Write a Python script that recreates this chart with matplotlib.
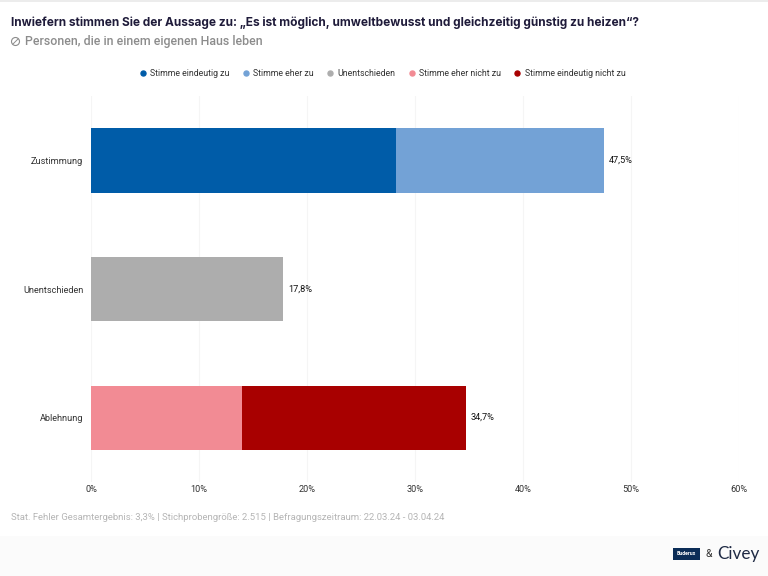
import matplotlib
matplotlib.use('Agg')
import matplotlib.pyplot as plt
from matplotlib.lines import Line2D
from matplotlib.patches import Rectangle, Ellipse

plt.rcParams['font.family'] = ['Roboto', 'DejaVu Sans']

# Data
categories = ['Zustimmung', 'Unentschieden', 'Ablehnung']
series_names = ['Stimme eindeutig zu', 'Stimme eher zu', 'Unentschieden',
                'Stimme eher nicht zu', 'Stimme eindeutig nicht zu']
eindeutig_zu = [28.2, 0, 0]
eher_zu = [19.3, 0, 0]
unentschieden = [0, 17.8, 0]
eher_nicht_zu = [0, 0, 14.0]
eindeutig_nicht_zu = [0, 0, 20.7]
total_labels = ['47,5%', '17,8%', '34,7%']
x_ticks = [0, 10, 20, 30, 40, 50, 60]

colors = ['#005ca8', '#73a2d6', '#adadad', '#f28b94', '#a80000']
W, H = 768, 576


def px(x, y):
    return x / W, 1 - y / H


fig = plt.figure(figsize=(7.68, 5.76), dpi=100)
ax = fig.add_axes([91 / W, 1 - 482 / H, 648 / W, 386 / H])

series = [eindeutig_zu, eher_zu, unentschieden, eher_nicht_zu, eindeutig_nicht_zu]
left = [0, 0, 0]
for vals, col in zip(series, colors):
    ax.barh(categories, vals, left=left, height=0.5, color=col, zorder=3)
    left = [a + b for a, b in zip(left, vals)]

for i, lab in enumerate(total_labels):
    ax.annotate(lab, (left[i], i), xytext=(3.6, 0), textcoords='offset points',
                va='center', fontsize=6.6, color='#111111', zorder=4)

ax.set_xlim(0, 60)
ax.set_ylim(2.5, -0.5)
ax.set_xticks(x_ticks)
ax.set_xticklabels([f'{t}%' for t in x_ticks])
ax.tick_params(axis='x', length=0, pad=2, labelsize=6.6, labelcolor='#333333')
ax.tick_params(axis='y', length=0, pad=5.5, labelsize=6.6, labelcolor='#333333')
ax.grid(axis='x', color='#f5f5f5', linewidth=0.8, zorder=0)
ax.set_axisbelow(True)
for s in ax.spines.values():
    s.set_visible(False)

# Legend
handles = [Line2D([], [], marker='o', linestyle='none', color=c, markersize=3.6) for c in colors]
fig.legend(handles, series_names, loc='center', bbox_to_anchor=(381.5 / W, 1 - 73.5 / H), ncol=5,
           frameon=False, fontsize=6.35, handletextpad=0.25, columnspacing=1.34,
           labelcolor='#333333', handlelength=1.1)

# Title
fig.text(*px(11, 23), 'Inwiefern stimmen Sie der Aussage zu: „Es ist möglich, umweltbewusst und gleichzeitig günstig zu heizen“?',
         family=['Inter', 'DejaVu Sans'], fontsize=8.55, fontweight='bold', color='#1f1b3a', va='center')
fig.text(*px(25, 41), 'Personen, die in einem eigenen Haus leben',
         fontsize=8.9, fontweight='medium', color='#8c8c8c', va='center')
fig.add_artist(Ellipse(px(15.5, 41.5), 8 / W, 8 / H, transform=fig.transFigure, fill=False,
                       edgecolor='#8c8c8c', linewidth=0.8))
fig.add_artist(Line2D([13 / W, 18 / W], [1 - 44 / H, 1 - 39 / H], color='#8c8c8c', linewidth=0.7))

# Footer
fig.text(*px(11, 518), 'Stat. Fehler Gesamtergebnis: 3,3% | Stichprobengröße: 2.515 | Befragungszeitraum: 22.03.24 - 03.04.24',
         fontsize=6.83, color='#b5b5b5', va='center')
fig.add_artist(Rectangle((0, 0), 1, 40 / H, transform=fig.transFigure, facecolor='#fbfbfb',
                         edgecolor='none', zorder=-1))
fig.add_artist(Rectangle((0, 1 - 2 / H), 1, 2 / H, transform=fig.transFigure, facecolor='#ececec',
                         edgecolor='none', zorder=-1))
fig.add_artist(Rectangle((673 / W, 1 - 560 / H), 27 / W, 12 / H, transform=fig.transFigure,
                         facecolor='#0b2d57', edgecolor='none'))
fig.text(*px(686.5, 553.5), 'Buderus', fontsize=3.8, fontweight='bold', color='white', ha='center', va='center')
fig.text(*px(709, 554), '&', fontsize=7.5, color='#333333', ha='center', va='center')
fig.text(*px(717, 553.5), 'Civey', family=['Lato', 'DejaVu Sans'], fontsize=12.3, color='#1f2a44', va='center')

fig.savefig('out.png', dpi=100, facecolor='white')
